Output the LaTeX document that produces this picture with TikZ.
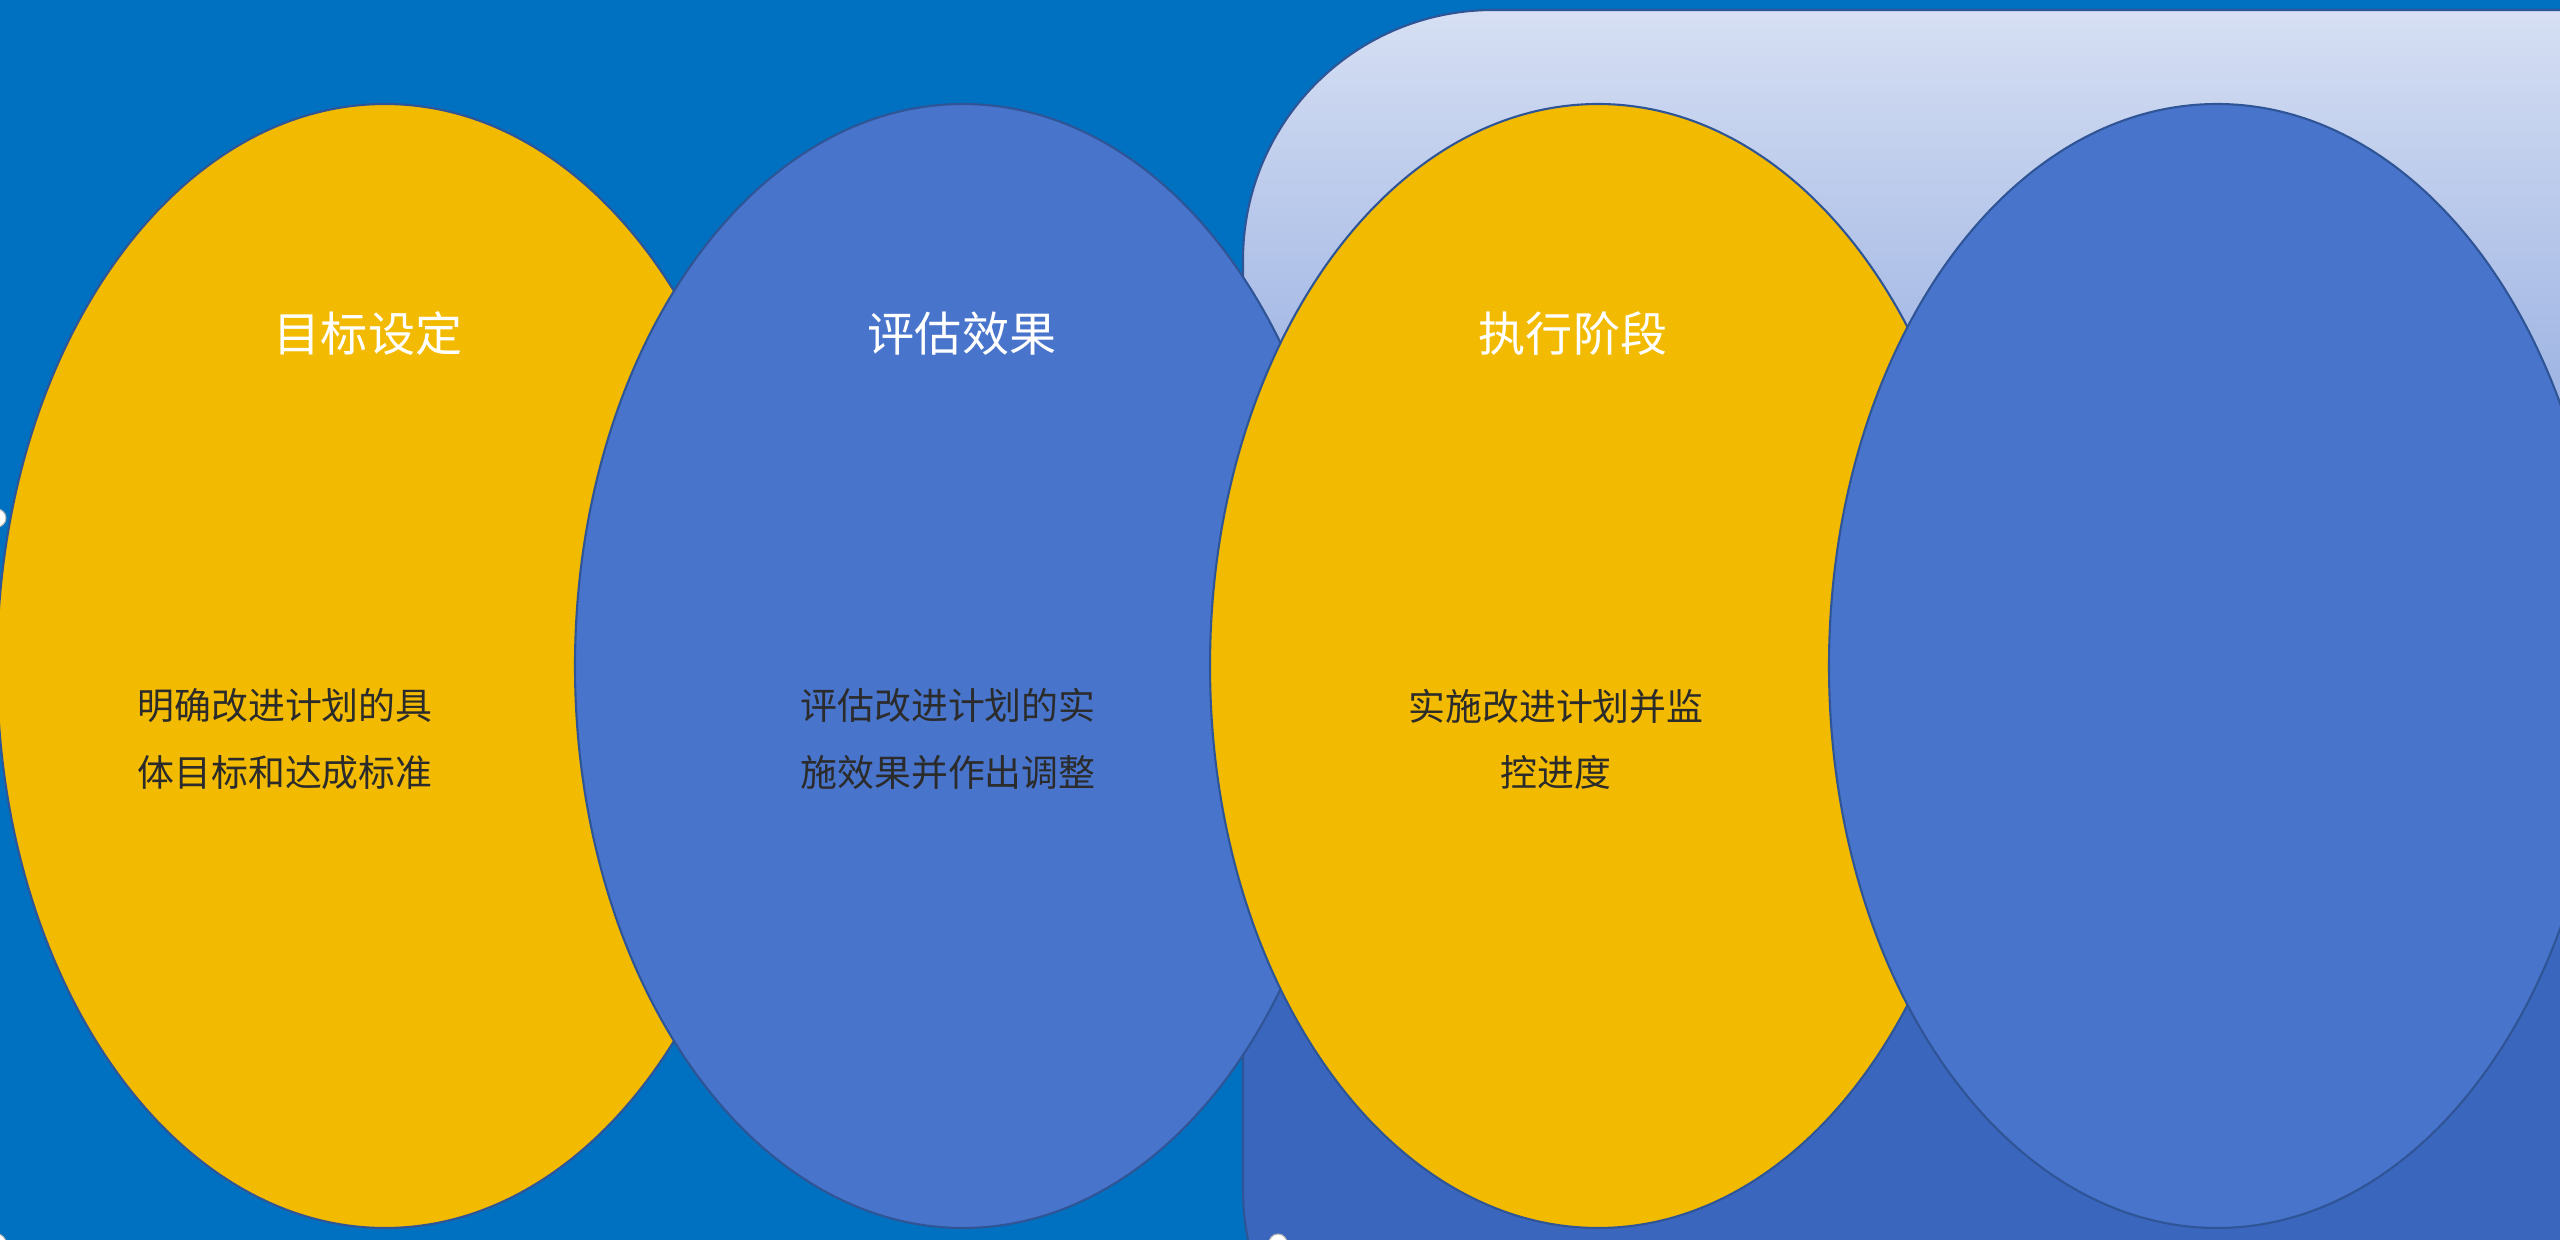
\documentclass[tikz,border=0pt]{standalone}
\usepackage{fontspec}
\newfontfamily\cjk{Noto Sans CJK SC}
\usetikzlibrary{shapes.geometric}
\definecolor{bgblue}{HTML}{0070C0}
\definecolor{rlt}{HTML}{D6DFF3}
\definecolor{rmid}{HTML}{9DB3E3}
\definecolor{rdk}{HTML}{3A66BE}
\definecolor{ylw}{HTML}{F2BA00}
\definecolor{blu}{HTML}{4874CB}
\definecolor{edge}{HTML}{2F5597}
\definecolor{bodytxt}{HTML}{2B2B2B}
\pgfdeclareverticalshading{rectshade}{100bp}{color(0bp)=(rdk); color(25bp)=(rdk); color(42bp)=(rdk); color(61bp)=(rmid); color(75bp)=(rlt); color(100bp)=(rlt)}
\tikzset{
  ell/.style={ellipse, draw=edge, line width=0.6pt, minimum width=77.6mm, minimum height=112.4mm, inner sep=0pt},
  ttl/.style={text=white, font={\cjk\fontsize{13.4}{16}\selectfont}, inner sep=0pt},
  bodytext/.style={text=bodytxt, align=center, font={\cjk\fontsize{10.5}{18.8}\selectfont}, inner sep=0pt},
  handle/.style={fill=white, draw=black!30, line width=0.3pt}
}
\begin{document}
\begin{tikzpicture}[x=0.1mm,y=-0.1mm]
\useasboundingbox (0,0) rectangle (2560,1240);
\begin{scope}
\clip (0,0) rectangle (2560,1240);
\fill[bgblue] (0,0) rectangle (2560,1240);
\path[shading=rectshade, draw=edge, line width=0.6pt, rounded corners=25mm] (1243,10) rectangle (2950,1440);
\node[ell, fill=ylw] (e1) at (385,666) {};
\node[ell, fill=blu] (e2) at (963,666) {};
\node[ell, fill=ylw] (e3) at (1598,666) {};
\node[ell, fill=blu] (e4) at (2217,666) {};
\node[ttl] (t1) at (368,334) {目标设定};
\node[ttl] (t2) at (962,334) {评估效果};
\node[ttl] (t3) at (1573,334) {执行阶段};
\node[bodytext] (b1) at (285,739) {明确改进计划的具\\体目标和达成标准};
\node[bodytext] (b2) at (948,739) {评估改进计划的实\\施效果并作出调整};
\node[bodytext] (b3) at (1556,739) {实施改进计划并监\\控进度};
\path[handle] (-3,518) circle[radius=9];
\path[handle] (1278,1243) circle[radius=9];
\path[handle] (-3,1243) circle[radius=9];
\end{scope}
\end{tikzpicture}
\end{document}
